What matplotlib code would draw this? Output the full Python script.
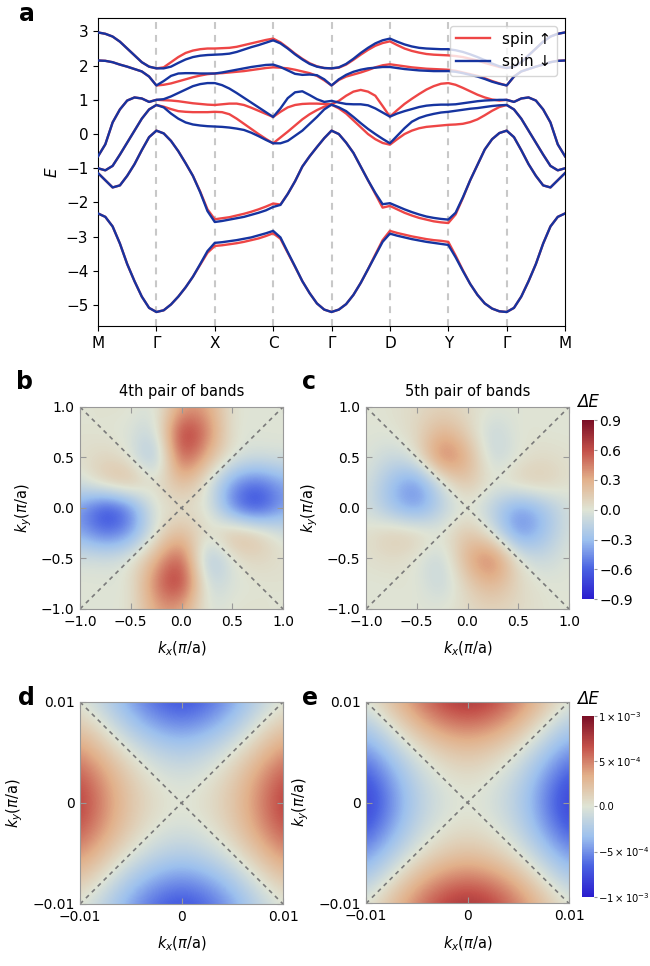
import numpy as np
import matplotlib.pyplot as plt
from matplotlib.colors import LinearSegmentedColormap

# ---- panel a: band structure along M-Γ-X-C-Γ-D-Y-Γ-M ----
path_labels = ['M', 'Γ', 'X', 'C', 'Γ', 'D', 'Y', 'Γ', 'M']
# 9 samples per segment (segment ends shared)
band1_dn = [
    [-2.32, -2.42, -2.7, -3.2, -3.8, -4.3, -4.75, -5.08, -5.2],
    [-5.2, -5.15, -4.98, -4.75, -4.48, -4.17, -3.8, -3.42, -3.18],
    [-3.18, -3.16, -3.13, -3.10, -3.06, -3.02, -2.96, -2.90, -2.83],
    [-2.83, -3.02, -3.45, -3.87, -4.3, -4.65, -4.95, -5.13, -5.2],
    [-5.2, -5.13, -4.97, -4.7, -4.35, -3.95, -3.55, -3.15, -2.91],
    [-2.91, -2.97, -3.02, -3.07, -3.11, -3.15, -3.18, -3.21, -3.24],
    [-3.24, -3.6, -4.0, -4.38, -4.7, -4.95, -5.1, -5.18, -5.2],
    [-5.2, -5.08, -4.75, -4.3, -3.8, -3.2, -2.7, -2.42, -2.32],
]
band1_up = [
    [-2.32, -2.42, -2.7, -3.2, -3.8, -4.3, -4.75, -5.08, -5.2],
    [-5.2, -5.15, -4.98, -4.75, -4.48, -4.17, -3.82, -3.47, -3.27],
    [-3.27, -3.25, -3.22, -3.19, -3.15, -3.10, -3.05, -2.98, -2.90],
    [-2.90, -3.06, -3.47, -3.88, -4.3, -4.65, -4.95, -5.13, -5.2],
    [-5.2, -5.13, -4.97, -4.7, -4.35, -3.95, -3.52, -3.1, -2.83],
    [-2.83, -2.89, -2.94, -2.99, -3.03, -3.07, -3.10, -3.12, -3.15],
    [-3.15, -3.55, -3.98, -4.38, -4.7, -4.95, -5.1, -5.18, -5.2],
    [-5.2, -5.08, -4.75, -4.3, -3.8, -3.2, -2.7, -2.42, -2.32],
]
band2_dn = [
    [-1.14, -1.35, -1.56, -1.5, -1.22, -0.88, -0.47, -0.09, 0.1],
    [0.1, 0.02, -0.2, -0.5, -0.85, -1.22, -1.7, -2.25, -2.57],
    [-2.57, -2.54, -2.5, -2.46, -2.42, -2.36, -2.3, -2.23, -2.13],
    [-2.13, -2.07, -1.75, -1.38, -0.95, -0.65, -0.38, -0.12, 0.1],
    [0.1, 0.0, -0.25, -0.55, -0.95, -1.35, -1.72, -2.05, -2.02],
    [-2.02, -2.11, -2.2, -2.28, -2.35, -2.41, -2.45, -2.48, -2.5],
    [-2.5, -2.3, -1.85, -1.35, -0.9, -0.45, -0.15, 0.03, 0.1],
    [0.1, -0.09, -0.47, -0.88, -1.22, -1.5, -1.56, -1.35, -1.14],
]
band2_up = [
    [-1.14, -1.35, -1.56, -1.5, -1.22, -0.88, -0.47, -0.09, 0.1],
    [0.1, 0.02, -0.2, -0.5, -0.85, -1.22, -1.68, -2.2, -2.49],
    [-2.49, -2.46, -2.43, -2.38, -2.33, -2.27, -2.2, -2.12, -2.03],
    [-2.03, -2.06, -1.75, -1.38, -0.95, -0.65, -0.38, -0.12, 0.1],
    [0.1, 0.0, -0.25, -0.55, -0.95, -1.35, -1.75, -2.15, -2.1],
    [-2.1, -2.2, -2.3, -2.38, -2.45, -2.5, -2.55, -2.58, -2.6],
    [-2.6, -2.35, -1.87, -1.35, -0.9, -0.45, -0.15, 0.03, 0.1],
    [0.1, -0.09, -0.47, -0.88, -1.22, -1.5, -1.56, -1.35, -1.14],
]
band3_dn = [
    [-1.0, -1.06, -0.93, -0.6, -0.25, 0.1, 0.45, 0.72, 0.85],
    [0.85, 0.78, 0.6, 0.45, 0.34, 0.28, 0.25, 0.23, 0.22],
    [0.22, 0.21, 0.19, 0.16, 0.12, 0.04, -0.06, -0.17, -0.27],
    [-0.27, -0.27, -0.2, -0.05, 0.1, 0.3, 0.5, 0.72, 0.86],
    [0.86, 0.78, 0.67, 0.5, 0.32, 0.15, 0.0, -0.14, -0.27],
    [-0.27, -0.05, 0.17, 0.36, 0.47, 0.54, 0.59, 0.63, 0.65],
    [0.65, 0.68, 0.71, 0.74, 0.76, 0.79, 0.82, 0.84, 0.85],
    [0.85, 0.72, 0.45, 0.1, -0.25, -0.6, -0.93, -1.06, -1.0],
]
band3_up = [
    [-1.0, -1.06, -0.93, -0.6, -0.25, 0.1, 0.45, 0.72, 0.85],
    [0.85, 0.8, 0.73, 0.67, 0.65, 0.64, 0.64, 0.64, 0.65],
    [0.65, 0.64, 0.58, 0.45, 0.3, 0.15, 0.0, -0.14, -0.27],
    [-0.27, -0.1, 0.07, 0.25, 0.43, 0.58, 0.7, 0.8, 0.86],
    [0.86, 0.75, 0.6, 0.4, 0.2, 0.0, -0.15, -0.26, -0.31],
    [-0.31, -0.15, 0.0, 0.1, 0.17, 0.21, 0.23, 0.25, 0.27],
    [0.27, 0.28, 0.3, 0.35, 0.43, 0.55, 0.68, 0.79, 0.85],
    [0.85, 0.72, 0.45, 0.1, -0.25, -0.6, -0.93, -1.06, -1.0],
]
band4_dn = [
    [-0.65, -0.3, 0.34, 0.72, 0.98, 1.07, 1.04, 0.94, 1.0],
    [1.0, 1.02, 1.1, 1.2, 1.3, 1.4, 1.46, 1.49, 1.49],
    [1.49, 1.43, 1.33, 1.2, 1.06, 0.92, 0.78, 0.64, 0.5],
    [0.5, 0.75, 1.05, 1.22, 1.25, 1.14, 1.02, 0.94, 0.97],
    [0.97, 0.92, 0.88, 0.87, 0.87, 0.84, 0.75, 0.63, 0.51],
    [0.51, 0.6, 0.67, 0.73, 0.79, 0.83, 0.85, 0.86, 0.86],
    [0.86, 0.87, 0.9, 0.93, 0.96, 0.98, 0.99, 1.0, 1.0],
    [1.0, 0.94, 1.04, 1.07, 0.98, 0.72, 0.34, -0.3, -0.65],
]
band4_up = [
    [-0.65, -0.3, 0.34, 0.72, 0.98, 1.07, 1.04, 0.94, 1.0],
    [1.0, 0.99, 0.98, 0.96, 0.93, 0.9, 0.88, 0.86, 0.85],
    [0.85, 0.87, 0.89, 0.89, 0.85, 0.77, 0.68, 0.59, 0.5],
    [0.5, 0.65, 0.78, 0.85, 0.88, 0.89, 0.89, 0.88, 0.87],
    [0.87, 0.97, 1.12, 1.24, 1.29, 1.24, 1.12, 0.82, 0.51],
    [0.51, 0.7, 0.88, 1.03, 1.17, 1.3, 1.4, 1.47, 1.49],
    [1.49, 1.44, 1.35, 1.25, 1.15, 1.07, 1.01, 0.98, 1.0],
    [1.0, 0.94, 1.04, 1.07, 0.98, 0.72, 0.34, -0.3, -0.65],
]
band5_dn = [
    [2.15, 2.14, 2.1, 2.03, 1.97, 1.9, 1.83, 1.68, 1.42],
    [1.42, 1.55, 1.7, 1.77, 1.78, 1.78, 1.77, 1.77, 1.77],
    [1.77, 1.8, 1.84, 1.88, 1.92, 1.96, 1.99, 2.02, 2.03],
    [2.03, 1.96, 1.86, 1.76, 1.73, 1.74, 1.72, 1.6, 1.42],
    [1.42, 1.6, 1.73, 1.82, 1.88, 1.92, 1.94, 1.96, 1.96],
    [1.96, 1.93, 1.9, 1.88, 1.86, 1.85, 1.84, 1.84, 1.84],
    [1.84, 1.82, 1.78, 1.73, 1.68, 1.61, 1.53, 1.47, 1.42],
    [1.42, 1.68, 1.83, 1.9, 1.97, 2.03, 2.1, 2.14, 2.15],
]
band5_up = [
    [2.15, 2.14, 2.1, 2.03, 1.97, 1.9, 1.83, 1.68, 1.42],
    [1.42, 1.44, 1.48, 1.54, 1.6, 1.66, 1.71, 1.75, 1.77],
    [1.77, 1.78, 1.8, 1.82, 1.84, 1.87, 1.9, 1.93, 1.95],
    [1.95, 1.94, 1.92, 1.88, 1.83, 1.78, 1.7, 1.57, 1.42],
    [1.42, 1.58, 1.68, 1.74, 1.8, 1.87, 1.95, 2.01, 2.04],
    [2.04, 2.01, 1.98, 1.95, 1.93, 1.91, 1.9, 1.89, 1.88],
    [1.88, 1.85, 1.8, 1.75, 1.7, 1.63, 1.55, 1.48, 1.42],
    [1.42, 1.68, 1.83, 1.9, 1.97, 2.03, 2.1, 2.14, 2.15],
]
band6_dn = [
    [2.97, 2.93, 2.85, 2.7, 2.5, 2.3, 2.1, 1.97, 1.92],
    [1.92, 1.92, 1.97, 2.08, 2.18, 2.25, 2.29, 2.31, 2.32],
    [2.32, 2.33, 2.35, 2.4, 2.47, 2.54, 2.6, 2.67, 2.74],
    [2.74, 2.65, 2.5, 2.33, 2.18, 2.05, 1.97, 1.93, 1.92],
    [1.92, 1.95, 2.05, 2.2, 2.37, 2.52, 2.65, 2.74, 2.79],
    [2.79, 2.7, 2.62, 2.56, 2.52, 2.5, 2.49, 2.48, 2.48],
    [2.48, 2.45, 2.4, 2.33, 2.25, 2.16, 2.06, 1.98, 1.93],
    [1.93, 1.97, 2.1, 2.3, 2.5, 2.7, 2.85, 2.93, 2.97],
]
band6_up = [
    [2.97, 2.93, 2.85, 2.7, 2.5, 2.3, 2.1, 1.97, 1.92],
    [1.92, 1.95, 2.1, 2.25, 2.37, 2.44, 2.48, 2.5, 2.5],
    [2.5, 2.51, 2.52, 2.55, 2.6, 2.65, 2.7, 2.75, 2.79],
    [2.79, 2.68, 2.52, 2.35, 2.2, 2.07, 1.98, 1.93, 1.92],
    [1.92, 1.94, 2.03, 2.17, 2.32, 2.46, 2.58, 2.66, 2.71],
    [2.71, 2.6, 2.5, 2.43, 2.38, 2.34, 2.32, 2.31, 2.3],
    [2.3, 2.28, 2.25, 2.2, 2.15, 2.08, 2.02, 1.96, 1.93],
    [1.93, 1.97, 2.1, 2.3, 2.5, 2.7, 2.85, 2.93, 2.97],
]

# ---- panels b-e: spin splitting ΔE on a grid (rows: ky from +1 to -1, cols: kx from -1 to 1) ----
dE_4th = [
    [0.0, 0.03, 0.02, -0.05, 0.35, 0.35, 0.0, 0.0, 0.0],
    [0.02, 0.0, -0.02, -0.15, 0.8, 0.5, -0.02, 0.0, 0.0],
    [0.03, 0.1, 0.0, -0.35, 0.68, 0.28, 0.0, -0.05, -0.03],
    [-0.05, 0.2, 0.3, 0.0, 0.28, 0.0, -0.45, -0.6, -0.38],
    [-0.42, -0.78, -0.55, 0.05, 0.0, 0.05, -0.55, -0.78, -0.42],
    [-0.38, -0.6, -0.45, 0.0, 0.28, 0.0, 0.3, 0.2, -0.05],
    [-0.03, -0.05, 0.0, 0.28, 0.68, -0.35, 0.0, 0.1, 0.03],
    [0.0, 0.0, -0.02, 0.5, 0.8, -0.15, -0.02, 0.0, 0.02],
    [0.0, 0.0, 0.0, 0.35, 0.35, -0.05, 0.02, 0.03, 0.0],
]
dE_5th = [
    [0.0, 0.02, 0.06, 0.1, 0.06, 0.0, 0.0, 0.0, 0.0],
    [0.0, 0.0, 0.08, 0.3, 0.12, -0.15, 0.02, 0.0, 0.0],
    [0.0, -0.12, 0.0, 0.58, 0.32, -0.15, 0.0, 0.06, 0.02],
    [-0.03, -0.3, -0.52, -0.05, 0.22, 0.0, 0.15, 0.17, 0.03],
    [-0.05, -0.3, -0.48, -0.18, 0.0, -0.18, -0.48, -0.3, -0.05],
    [0.03, 0.17, 0.15, 0.0, 0.22, -0.05, -0.52, -0.3, -0.03],
    [0.02, 0.06, 0.0, -0.15, 0.32, 0.58, 0.0, -0.12, 0.0],
    [0.0, 0.0, 0.02, -0.15, 0.12, 0.3, 0.08, 0.0, 0.0],
    [0.0, 0.0, 0.0, 0.0, 0.06, 0.1, 0.06, 0.02, 0.0],
]
# near Γ, in units of 1e-3
dE_4th_small = [
    [0.0, -0.2, -0.45, -0.65, -0.75, -0.65, -0.45, -0.2, 0.0],
    [0.2, 0.0, -0.25, -0.42, -0.5, -0.42, -0.25, 0.0, 0.2],
    [0.45, 0.22, 0.0, -0.15, -0.22, -0.15, 0.0, 0.22, 0.45],
    [0.65, 0.4, 0.15, 0.0, -0.05, 0.0, 0.15, 0.4, 0.65],
    [0.75, 0.45, 0.2, 0.05, 0.0, 0.05, 0.2, 0.45, 0.75],
    [0.65, 0.4, 0.15, 0.0, -0.05, 0.0, 0.15, 0.4, 0.65],
    [0.45, 0.22, 0.0, -0.15, -0.22, -0.15, 0.0, 0.22, 0.45],
    [0.2, 0.0, -0.25, -0.42, -0.5, -0.42, -0.25, 0.0, 0.2],
    [0.0, -0.2, -0.45, -0.65, -0.75, -0.65, -0.45, -0.2, 0.0],
]
dE_5th_small = [
    [0.0, 0.25, 0.5, 0.72, 0.82, 0.72, 0.5, 0.25, 0.0],
    [-0.25, 0.0, 0.27, 0.45, 0.52, 0.45, 0.27, 0.0, -0.25],
    [-0.5, -0.25, 0.0, 0.15, 0.22, 0.15, 0.0, -0.25, -0.5],
    [-0.72, -0.45, -0.15, 0.0, 0.05, 0.0, -0.15, -0.45, -0.72],
    [-0.85, -0.52, -0.22, -0.05, 0.0, -0.05, -0.22, -0.52, -0.85],
    [-0.72, -0.45, -0.15, 0.0, 0.05, 0.0, -0.15, -0.45, -0.72],
    [-0.5, -0.25, 0.0, 0.15, 0.22, 0.15, 0.0, -0.25, -0.5],
    [-0.25, 0.0, 0.27, 0.45, 0.52, 0.45, 0.27, 0.0, -0.25],
    [0.0, 0.25, 0.5, 0.72, 0.82, 0.72, 0.5, 0.25, 0.0],
]
cbar_ticks_big = [0.9, 0.6, 0.3, 0.0, -0.3, -0.6, -0.9]
cbar_ticks_small = [1e-3, 5e-4, 0.0, -5e-4, -1e-3]
cbar_labels_small = [r'$1\times10^{-3}$', r'$5\times10^{-4}$', '0.0',
                     r'$-5\times10^{-4}$', r'$-1\times10^{-3}$']

RED = '#ee4646'
BLUE = '#1634a0'
GRID = '#999999'
cmap = LinearSegmentedColormap.from_list('dE', [
    (0.0, '#2a1cce'), (0.17, '#4a62e2'), (0.33, '#9cc0ee'), (0.5, '#dfe4d5'),
    (0.67, '#e2b08a'), (0.83, '#c4514a'), (1.0, '#7a0e25')])


def join(segs):
    out = list(segs[0])
    for s in segs[1:]:
        out += s[1:]
    return out


fig = plt.figure(figsize=(6.5, 9.66), dpi=100)

# panel a
ax = fig.add_axes([0.1508, 0.6625, 0.7185, 0.3188])
k = np.linspace(0, len(path_labels) - 1, 8 * (len(path_labels) - 1) + 1)
for up, dn in [(band1_up, band1_dn), (band2_up, band2_dn), (band3_up, band3_dn),
               (band4_up, band4_dn), (band5_up, band5_dn), (band6_up, band6_dn)]:
    ax.plot(k, join(up), color=RED, lw=1.7, zorder=2, solid_joinstyle='round')
    ax.plot(k, join(dn), color=BLUE, lw=1.7, zorder=3, solid_joinstyle='round')
for i in range(1, len(path_labels) - 1):
    ax.axvline(i, color='#c8c8c8', ls=(0, (3.3, 2.9)), lw=1.5, zorder=1)
ax.plot([], [], color=RED, lw=1.7, label='spin ↑')
ax.plot([], [], color=BLUE, lw=1.7, label='spin ↓')
ax.set_xlim(0, len(path_labels) - 1)
ax.set_ylim(-5.61, 3.39)
ax.set_xticks(range(len(path_labels)))
ax.set_xticklabels(path_labels)
ax.set_yticks(range(-5, 4))
ax.tick_params(labelsize=11)
ax.set_ylabel('$E$', fontsize=11)
ax.legend(loc='upper right', fontsize=11, handlelength=2.2)
fig.text(0.03, 0.998, 'a', fontsize=17, fontweight='bold', va='top')


def density(ax, grid, lim, vlim, ticks, ticklabels):
    n = len(grid)
    h = 2 * lim / (n - 1)
    im = ax.imshow(np.array(grid), cmap=cmap, vmin=-vlim, vmax=vlim,
                   interpolation='bicubic', origin='upper',
                   extent=[-lim - h / 2, lim + h / 2, -lim - h / 2, lim + h / 2])
    ax.set_xlim(-lim, lim)
    ax.set_ylim(-lim, lim)
    ax.set_aspect('auto')
    ax.axline((0, 0), slope=1, color='#7a7a7a', lw=1.2, ls=(0, (2.5, 2.5)))
    ax.axline((0, 0), slope=-1, color='#7a7a7a', lw=1.2, ls=(0, (2.5, 2.5)))
    ax.set_xticks(ticks)
    ax.set_yticks(ticks)
    ax.set_xticklabels(ticklabels)
    ax.set_yticklabels(ticklabels)
    ax.tick_params(direction='in', top=True, right=True, length=4, color=GRID,
                   labelsize=10, pad=4)
    for s in ax.spines.values():
        s.set_color(GRID)
    ax.set_xlabel(r'$k_x(\pi/\mathrm{a})$', fontsize=10.5, labelpad=8)
    ax.set_ylabel(r'$k_y(\pi/\mathrm{a})$', fontsize=10.5, labelpad=5)
    return im


big_ticks = [-1.0, -0.5, 0.0, 0.5, 1.0]
big_labels = ['−1.0', '−0.5', '0.0', '0.5', '1.0']
small_ticks = [-0.01, 0.0, 0.01]
small_labels = ['−0.01', '0', '0.01']

ax_b = fig.add_axes([0.1231, 0.3696, 0.3123, 0.2091])
density(ax_b, dE_4th, 1.0, 0.9, big_ticks, big_labels)
ax_b.set_title('4th pair of bands', fontsize=10.5, pad=8)

ax_c = fig.add_axes([0.5631, 0.3696, 0.3123, 0.2091])
im_c = density(ax_c, dE_5th, 1.0, 0.9, big_ticks, big_labels)
ax_c.set_title('5th pair of bands', fontsize=10.5, pad=8)
cax_c = fig.add_axes([0.8954, 0.3796, 0.0185, 0.1853])
cb = fig.colorbar(im_c, cax=cax_c, ticks=cbar_ticks_big)
cb.outline.set_visible(False)
cb.ax.set_yticklabels(['0.9', '0.6', '0.3', '0.0', '−0.3', '−0.6', '−0.9'])
cb.ax.tick_params(labelsize=10, length=2, color=GRID, pad=2)
fig.text(588 / 650, 1 - 402 / 966, 'ΔE', fontsize=12, style='italic', ha='center', va='center')

ax_d = fig.add_axes([0.1231, 0.0642, 0.3123, 0.2091])
density(ax_d, np.array(dE_4th_small) * 1e-3, 0.01, 1e-3, small_ticks, small_labels)

ax_e = fig.add_axes([0.5631, 0.0647, 0.3123, 0.2091])
im_e = density(ax_e, np.array(dE_5th_small) * 1e-3, 0.01, 1e-3, small_ticks, small_labels)
cax_e = fig.add_axes([0.8954, 0.0717, 0.0185, 0.1871])
cb2 = fig.colorbar(im_e, cax=cax_e, ticks=cbar_ticks_small)
cb2.outline.set_visible(False)
cb2.ax.set_yticklabels(cbar_labels_small)
cb2.ax.tick_params(labelsize=7.2, length=2, color=GRID, pad=1)
fig.text(588 / 650, 1 - 699 / 966, 'ΔE', fontsize=12, style='italic', ha='center', va='center')

for lab, x, y in [('b', 0.025, 0.617), ('c', 0.465, 0.617), ('d', 0.028, 0.29), ('e', 0.465, 0.29)]:
    fig.text(x, y, lab, fontsize=17, fontweight='bold', va='top')

fig.savefig('out.png', dpi=100)
